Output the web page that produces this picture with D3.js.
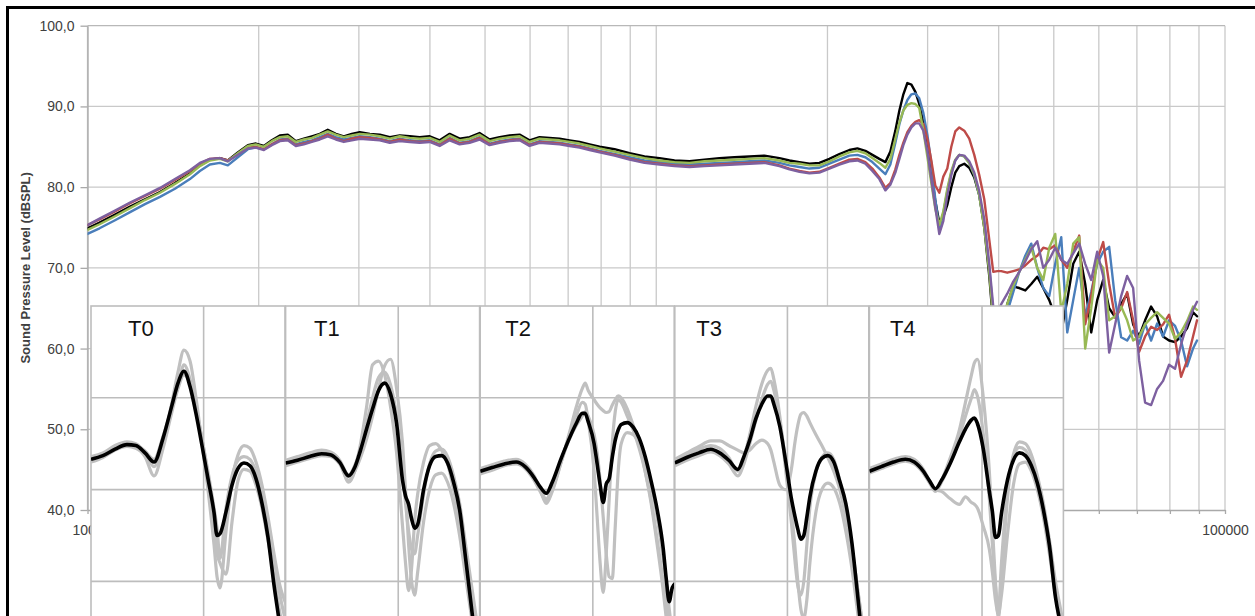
<!DOCTYPE html>
<html>
<head>
<meta charset="utf-8">
<script src="https://cdn.jsdelivr.net/npm/d3@7"></script>
<style>
  html, body { margin: 0; padding: 0; background: #fff; overflow: hidden; }
  svg { display: block; }
</style>
</head>
<body>
<script>
// ---------- Main response: frequency grid (Hz) ----------
const freqHz = [1000,1050,1118,1188,1262,1341,1425,1514,1576,1641,
  1709,1765,1838,1914,1977,2042,2109,2179,2250,2324,
  2401,2480,2561,2645,2733,2822,2915,3011,3136,3265,
  3400,3540,3686,3838,3997,4161,4333,4511,4697,4890,
  5093,5303,5524,5750,5987,6234,6492,6761,7040,7332,
  7634,7950,8446,8974,9537,10133,10767,11441,12155,12915,
  13722,14582,15495,16465,17145,17856,18590,19357,20155,20988,
  21855,22574,23316,23987,24676,25285,25800,26328,26760,27195,
  27640,28093,28550,29000,29485,29966,30452,30948,31455,31968,
  32488,33020,33555,34105,34799,35510,36236,36977,37733,38505,
  39131,39768,40416,41414,42432,43476,44546,45640,46764,47913,
  49089,50295,51530,52796,54093,55421,56782,58176,59605,61069,
  62568,64104,65677,67290,68942,70634,72368,74144,75964,77828,
  79738,81696,83701,85755,87859,89290];

// ---------- Main response: SPL per series (dB SPL) ----------
const splBlack = [74.9,75.6,76.6,77.6,78.5,79.4,80.5,81.7,82.7,83.4,
  83.6,83.3,84.3,85.2,85.4,85.1,85.8,86.4,86.5,85.7,
  86.0,86.3,86.6,87.1,86.6,86.3,86.6,86.8,86.6,86.5,
  86.2,86.4,86.3,86.2,86.3,85.8,86.6,86.0,86.2,86.7,
  85.9,86.2,86.4,86.5,85.8,86.2,86.1,86.0,85.8,85.6,
  85.3,85.0,84.7,84.2,83.8,83.6,83.3,83.2,83.4,83.6,
  83.7,83.8,83.9,83.6,83.3,83.1,82.9,83.0,83.5,84.1,
  84.6,84.8,84.5,84.0,83.5,83.1,84.4,87.0,89.5,91.5,
  92.9,92.7,91.8,90.3,88.0,84.8,81.6,78.3,75.6,76.3,
  77.8,80.0,81.8,82.6,82.9,82.4,81.2,79.0,75.0,69.0,
  63.0,61.0,62.5,65.5,67.7,67.5,67.2,68.0,68.9,67.5,
  66.0,64.0,62.0,66.0,70.5,72.0,68.0,62.0,66.0,68.5,
  65.0,63.9,65.5,66.8,63.0,61.5,63.5,65.2,64.0,61.5,
  61.0,60.8,61.5,62.5,64.5,64.0];

const splBlue = [74.2,74.9,75.9,76.9,77.9,78.8,79.8,81.0,82.0,82.8,
  83.0,82.7,83.7,84.7,84.9,84.7,85.3,85.9,86.0,85.3,
  85.6,85.8,86.2,86.6,86.2,85.9,86.1,86.3,86.2,86.0,
  85.7,86.0,85.8,85.7,85.8,85.3,86.1,85.5,85.7,86.2,
  85.4,85.7,85.9,86.0,85.3,85.7,85.6,85.5,85.3,85.1,
  84.8,84.5,84.1,83.7,83.3,83.1,82.9,82.8,82.9,83.0,
  83.1,83.2,83.3,83.0,82.7,82.5,82.3,82.4,82.9,83.4,
  83.9,84.0,83.7,83.1,82.3,81.6,82.8,85.5,87.8,89.5,
  90.8,91.5,91.6,91.0,89.2,86.5,83.0,78.5,74.8,76.8,
  79.5,81.8,83.3,84.0,83.8,83.0,81.5,79.0,75.5,70.0,
  64.5,61.0,62.0,64.5,67.0,69.5,71.5,73.0,70.0,67.5,
  66.5,70.5,73.8,62.0,66.0,70.0,64.0,67.0,70.5,72.0,
  72.6,66.0,61.4,61.0,62.2,60.6,63.1,61.0,63.1,61.5,
  63.5,62.8,61.0,57.8,60.0,61.0];

const splRed = [75.3,76.0,77.0,78.0,78.9,79.8,80.9,82.0,82.9,83.5,
  83.6,83.3,84.1,84.9,85.0,84.7,85.3,85.8,85.9,85.2,
  85.4,85.7,86.0,86.5,86.0,85.7,86.0,86.2,86.1,85.9,
  85.6,85.9,85.7,85.6,85.7,85.2,86.0,85.4,85.6,86.1,
  85.3,85.6,85.8,85.9,85.2,85.6,85.5,85.4,85.2,85.0,
  84.7,84.4,84.0,83.5,83.1,82.9,82.7,82.6,82.7,82.8,
  82.9,83.0,83.1,82.7,82.3,82.0,81.8,81.9,82.4,82.9,
  83.4,83.5,83.1,82.3,81.2,79.9,80.5,82.2,84.0,85.5,
  86.8,87.6,88.1,88.3,87.8,86.0,83.3,80.2,79.3,81.3,
  82.3,85.0,86.9,87.4,87.0,86.0,84.0,81.5,78.5,73.5,
  69.5,69.6,69.6,69.4,69.6,69.8,70.3,71.0,71.5,72.5,
  72.3,72.8,71.0,70.0,72.0,74.0,63.0,66.5,71.0,73.2,
  68.0,63.8,65.0,67.0,63.5,59.6,61.5,62.7,62.3,63.0,
  64.2,61.2,56.5,58.5,61.5,63.5];

const splGreen = [74.7,75.4,76.4,77.4,78.4,79.3,80.4,81.6,82.6,83.3,
  83.5,83.2,84.2,85.1,85.3,85.0,85.7,86.2,86.3,85.6,
  85.9,86.1,86.5,86.9,86.5,86.2,86.4,86.6,86.5,86.3,
  86.0,86.3,86.1,86.0,86.1,85.6,86.4,85.8,86.0,86.5,
  85.7,86.0,86.2,86.3,85.6,86.0,85.9,85.8,85.6,85.4,
  85.1,84.8,84.4,84.0,83.6,83.3,83.1,83.0,83.2,83.3,
  83.4,83.5,83.6,83.3,83.0,82.9,82.7,82.7,83.2,83.8,
  84.3,84.5,84.2,83.6,83.0,82.4,83.5,86.0,88.0,89.5,
  90.2,90.4,90.3,89.8,87.0,83.8,80.5,77.3,75.3,77.0,
  79.8,82.0,83.4,84.0,83.8,83.0,81.6,79.0,75.0,69.5,
  63.5,62.0,63.0,65.5,67.8,69.5,71.0,72.5,70.0,68.5,
  72.5,74.2,64.5,68.0,73.0,73.8,60.0,65.0,71.0,70.0,
  63.5,64.0,65.2,63.5,61.0,61.5,63.0,63.8,64.5,63.8,
  63.1,61.2,62.0,63.4,65.2,64.8];

const splPurple = [75.3,76.1,77.1,78.1,79.0,79.9,81.0,82.1,83.0,83.5,
  83.6,83.2,84.0,84.8,84.9,84.6,85.2,85.7,85.8,85.1,
  85.3,85.6,85.9,86.3,85.9,85.6,85.8,86.0,85.9,85.8,
  85.5,85.7,85.6,85.5,85.6,85.1,85.8,85.3,85.5,85.9,
  85.2,85.5,85.7,85.8,85.1,85.5,85.4,85.3,85.1,84.9,
  84.6,84.3,83.9,83.4,83.0,82.8,82.6,82.5,82.6,82.7,
  82.8,82.9,83.0,82.6,82.2,81.9,81.7,81.8,82.3,82.8,
  83.2,83.3,82.9,82.0,81.0,79.6,80.3,81.8,83.5,85.2,
  86.5,87.4,87.9,87.9,87.0,84.5,81.0,77.5,74.2,75.8,
  79.0,81.5,83.3,84.0,83.9,83.2,81.8,79.5,76.0,70.5,
  65.2,64.5,65.5,66.8,68.3,69.5,70.8,72.3,73.3,70.0,
  71.0,72.5,71.0,70.5,71.8,73.0,70.5,68.5,72.0,69.0,
  59.5,63.0,66.5,69.0,67.5,58.5,53.3,53.0,55.0,56.0,
  58.0,57.5,60.5,63.0,64.8,65.8];

const seriesValues = [splBlack, splBlue, splRed, splGreen, splPurple];
const seriesColors = ["#000000", "#4a7ebb", "#be4b48", "#98b954", "#7d60a0"];

// ---------- Axis ticks ----------
const yTicks = [40, 50, 60, 70, 80, 90, 100];
const xTickLabels = [1000, 10000, 100000];
const yTitle = "Sound Pressure Level (dBSPL)";

// ---------- Inset panels (frequency in kHz, level in dB) ----------
const insetLabels = ["T0", "T1", "T2", "T3", "T4"];

const t0Khz = [5.00,5.38,5.80,6.24,6.59,6.97,7.37,7.79,8.23,8.54,8.86,9.20,9.54,9.90,10.27,10.66,10.86,11.06,11.48,11.91,12.36,12.82,13.30,13.80,14.32,14.86,15.42,16.00,16.60];
const t0Mean = [83.3,83.7,84.4,84.9,84.8,84.0,83.0,85.6,89.2,91.6,92.9,91.2,88.3,84.8,81.2,77.5,75.0,75.2,77.6,80.5,82.3,82.9,82.6,81.2,78.5,74.8,69.6,65.0,59.5];
const t0Runs = [
  [83.6,84.0,84.8,85.2,85.0,84.0,82.5,85.0,89.5,92.8,95.2,94.0,90.0,85.0,80.0,74.0,70.5,69.3,75.5,81.0,83.8,84.8,84.5,83.0,80.5,77.0,73.0,69.5,67.5],
  [83.0,83.5,84.3,84.7,84.5,83.6,81.5,84.5,88.5,91.0,92.5,91.5,88.5,85.5,81.5,76.5,73.0,72.0,70.8,76.5,81.0,82.2,82.0,80.5,78.0,74.5,70.5,66.5,63.0],
  [83.5,83.9,84.6,85.0,84.9,84.2,83.3,85.8,89.0,91.2,93.6,92.0,89.0,85.5,82.0,78.0,75.8,72.5,78.0,81.5,83.2,83.6,83.3,82.0,79.8,76.5,72.5,68.5,65.5]
];

const t1Khz = [5.00,5.38,5.80,6.24,6.59,6.97,7.37,7.65,7.93,8.23,8.54,8.86,9.20,9.54,9.90,10.27,10.46,10.66,10.86,11.06,11.27,11.69,12.13,12.59,13.06,13.55,14.06,14.59,15.14,15.71,16.30,16.91];
const t1Mean = [82.9,83.2,83.6,83.9,83.8,83.0,81.5,82.4,84.3,86.6,88.8,90.8,91.6,90.4,87.2,81.0,79.3,78.4,76.8,75.8,76.2,80.0,82.6,83.6,83.7,82.9,80.8,77.8,72.5,67.0,61.5,56.0];
const t1Runs = [
  [83.2,83.6,84.0,84.3,84.1,83.2,80.8,82.0,85.0,89.0,93.6,94.0,92.5,89.0,84.0,76.0,72.0,69.0,71.5,76.5,79.5,83.0,84.8,85.0,84.3,82.8,80.0,76.5,72.5,68.0,63.5,59.0],
  [82.6,83.0,83.4,83.7,83.6,82.8,81.0,82.0,83.5,85.5,88.0,91.0,93.5,94.2,91.0,85.0,80.0,74.0,70.0,68.5,71.0,76.5,80.0,81.6,81.8,80.8,78.5,75.0,70.5,66.0,61.5,57.0],
  [83.1,83.4,83.8,84.1,84.0,83.2,81.6,82.6,84.6,87.2,90.0,92.2,92.8,91.4,88.0,82.0,78.5,75.5,73.5,73.0,75.0,79.5,82.8,84.2,84.4,83.6,81.5,78.5,74.0,69.5,65.0,60.5]
];

const t2Khz = [5.00,5.38,5.80,6.24,6.59,6.97,7.23,7.51,7.79,8.23,8.70,9.03,9.37,9.54,9.72,10.08,10.27,10.46,10.66,10.86,11.06,11.27,11.48,11.69,11.91,12.36,12.82,13.30,13.80,14.32,14.86,15.42,15.71,16.00,16.30,16.91];
const t2Mean = [82.0,82.4,82.8,83.0,82.5,81.3,80.3,79.6,80.8,83.4,85.8,87.2,88.3,88.3,87.4,85.0,82.8,80.5,78.6,80.6,81.2,83.5,85.4,86.5,87.1,87.3,86.8,85.6,83.6,80.9,77.8,73.6,70.3,67.8,69.3,70.0];
const t2Runs = [
  [82.3,82.7,83.1,83.3,82.8,81.5,80.0,78.5,79.8,83.0,86.5,89.0,91.0,91.6,90.8,89.8,89.3,88.9,88.6,88.4,88.5,89.2,89.8,90.2,90.0,88.8,87.0,85.0,82.0,78.5,74.0,69.0,66.0,63.0,61.0,58.0],
  [81.7,82.1,82.6,82.8,82.3,81.0,79.8,78.8,80.0,83.0,86.0,88.0,89.5,89.3,87.5,82.0,77.0,72.0,68.8,73.0,79.0,85.0,88.5,89.8,89.5,88.0,86.5,84.5,82.0,78.8,74.5,70.0,67.5,65.0,63.0,60.0],
  [82.2,82.5,82.9,83.1,82.6,81.2,80.0,79.0,80.3,83.2,85.7,87.0,88.0,88.5,88.0,86.0,84.0,81.0,77.0,73.0,70.5,70.3,76.0,82.0,85.0,86.2,86.0,85.0,83.2,80.5,77.0,72.5,70.0,67.0,64.5,61.0]
];

const t3Khz = [5.00,5.38,5.80,6.24,6.59,6.97,7.37,7.65,7.93,8.23,8.54,8.86,9.03,9.20,9.54,9.90,10.27,10.46,10.66,10.86,11.06,11.27,11.48,11.91,12.36,12.82,13.30,13.80,14.32,14.86,15.42,16.00,16.60];
const t3Mean = [82.9,83.5,84.0,84.4,84.0,83.2,82.2,83.6,85.4,87.7,89.3,90.2,90.2,89.3,86.9,83.0,78.8,77.2,75.7,74.6,75.0,77.0,79.2,82.0,83.4,83.7,83.0,80.9,78.5,74.3,68.3,62.0,56.0];
const t3Runs = [
  [83.2,83.8,84.4,84.8,84.5,83.5,82.0,83.5,86.0,89.0,91.5,93.0,93.2,92.0,88.0,82.0,76.0,72.5,69.5,68.5,70.0,74.0,78.0,81.8,83.5,84.0,83.3,81.0,78.0,74.0,69.0,64.0,59.0],
  [83.3,84.0,84.7,85.3,85.3,84.8,84.3,84.0,84.3,85.0,85.4,85.0,84.3,83.0,80.5,80.0,82.5,85.0,87.0,88.2,88.4,88.0,87.3,86.0,84.8,83.5,82.0,80.0,77.0,73.5,69.0,64.5,60.0],
  [82.6,83.2,83.7,84.1,83.7,82.8,81.5,82.8,85.0,87.5,89.8,91.5,91.8,90.8,87.5,83.0,77.5,74.0,70.0,67.0,66.0,68.0,72.0,77.5,80.0,80.7,80.2,78.5,75.5,71.5,66.5,61.5,57.0]
];

const t4Khz = [5.00,5.38,5.80,6.24,6.59,6.97,7.23,7.51,7.79,8.23,8.70,9.03,9.37,9.54,9.72,10.08,10.46,10.66,10.86,11.06,11.27,11.69,12.13,12.59,13.06,13.55,14.06,14.59,15.14,15.71,16.30,16.91];
const t4Mean = [82.0,82.5,83.0,83.3,83.0,82.0,81.0,80.1,81.0,82.9,85.2,86.6,87.6,87.8,87.2,84.4,79.8,77.6,74.8,75.0,77.4,81.0,83.2,84.0,83.7,82.6,80.7,77.8,73.9,68.3,64.8,61.0];
const t4Runs = [
  [82.3,82.8,83.3,83.6,83.3,82.2,81.0,80.0,81.0,83.5,86.5,89.5,92.5,93.8,94.2,90.0,82.0,76.0,70.0,66.0,70.0,79.0,83.8,85.2,85.0,83.8,81.5,78.5,74.5,70.0,66.5,63.0],
  [82.2,82.7,83.2,83.5,83.1,81.8,80.8,80.0,79.8,79.0,78.4,79.2,78.6,78.4,78.0,76.0,73.5,71.0,68.0,66.5,68.5,75.0,80.5,82.8,83.0,82.0,80.0,77.0,73.0,68.5,64.5,60.5],
  [81.8,82.3,82.8,83.1,82.8,81.8,80.8,79.8,80.8,83.0,85.8,88.0,90.0,90.9,90.2,86.0,79.0,74.0,69.5,67.0,72.0,80.0,83.6,84.6,84.3,83.0,81.0,78.0,74.0,69.5,65.5,61.5]
];

const insetKhz = [t0Khz, t1Khz, t2Khz, t3Khz, t4Khz];
const insetMean = [t0Mean, t1Mean, t2Mean, t3Mean, t4Mean];
const insetRuns = [t0Runs, t1Runs, t2Runs, t3Runs, t4Runs];

// ---------- Layout ----------
const W = 1255, H = 616;
const FONT = "Arial, 'Liberation Sans', sans-serif";
const plot = { left: 87.5, right: 1225, top: 25.7, bottom: 510 };
const gridColor = "#c9c9c9";
const axisColor = "#a9a9a9";

const svg = d3.select("body").append("svg")
  .attr("width", W).attr("height", H)
  .attr("viewBox", `0 0 ${W} ${H}`);

const x = d3.scaleLog().domain([1000, 100000]).range([plot.left, plot.right]);
const y = d3.scaleLinear().domain([40, 100]).range([plot.bottom, plot.top]);

const comma = d3.formatLocale({ decimal: ",", thousands: ".", grouping: [3], currency: ["", ""] }).format(".1f");

// gridlines
const grid = svg.append("g");
grid.selectAll("line.vg").data(x.ticks()).join("line")
  .attr("class", "vg")
  .attr("x1", d => x(d)).attr("x2", d => x(d))
  .attr("y1", y(100)).attr("y2", y(40))
  .attr("stroke", gridColor).attr("stroke-width", 1.3);
grid.selectAll("line.hg").data(yTicks.filter(v => v > 40)).join("line")
  .attr("class", "hg")
  .attr("x1", plot.left).attr("x2", plot.right)
  .attr("y1", d => y(d)).attr("y2", d => y(d))
  .attr("stroke", d => d === 100 ? "#b8b8b8" : gridColor).attr("stroke-width", 1.3);

// y axis
const yAxisG = svg.append("g")
  .attr("transform", `translate(${plot.left},0)`)
  .call(d3.axisLeft(y).tickValues(yTicks).tickSize(7).tickSizeOuter(0).tickPadding(6).tickFormat(comma));
yAxisG.attr("font-family", FONT).attr("font-size", 14);
yAxisG.select(".domain").attr("stroke", axisColor).attr("stroke-width", 1.3);
yAxisG.selectAll(".tick line").attr("stroke", axisColor).attr("stroke-width", 1.3);
yAxisG.selectAll(".tick text").attr("fill", "#404040");

// x axis
const xAxisG = svg.append("g")
  .attr("transform", `translate(0,${plot.bottom})`)
  .call(d3.axisBottom(x).tickValues(x.ticks()).tickSize(4).tickSizeOuter(0).tickPadding(11)
    .tickFormat(d => xTickLabels.some(v => Math.abs(v - d) < v * 1e-6) ? d3.format("d")(Math.round(d)) : ""));
xAxisG.attr("font-family", FONT).attr("font-size", 14);
xAxisG.select(".domain").attr("stroke", axisColor).attr("stroke-width", 1.3);
xAxisG.selectAll(".tick line").attr("stroke", axisColor).attr("stroke-width", 1.3);
xAxisG.selectAll(".tick text").attr("fill", "#404040");

// y axis title
svg.append("text")
  .attr("transform", `translate(30,${(plot.top + plot.bottom) / 2}) rotate(-90)`)
  .attr("text-anchor", "middle")
  .attr("font-family", FONT).attr("font-size", 13).attr("font-weight", "bold")
  .attr("fill", "#404040")
  .text(yTitle);

// response curves
svg.append("clipPath").attr("id", "plotClip")
  .append("rect").attr("x", plot.left).attr("y", plot.top)
  .attr("width", plot.right - plot.left).attr("height", plot.bottom - plot.top);

const line = d3.line().x((d, i) => x(freqHz[i])).y(d => y(d));
svg.append("g").attr("clip-path", "url(#plotClip)")
  .selectAll("path").data(seriesValues).join("path")
  .attr("d", d => line(d))
  .attr("fill", "none")
  .attr("stroke", (d, i) => seriesColors[i])
  .attr("stroke-width", 2.4)
  .attr("stroke-linejoin", "round")
  .attr("stroke-linecap", "round");

// ---------- Inset panels ----------
const insetLeft0 = 91, insetStep = 194.6, insetW = 194, insetTop = 306, insetH = 380;
const labelDx = [37, 28.5, 25, 21.5, 20.5];
const ix = d3.scaleLog().domain([5, 16.5]).range([0, insetW]);
const iy = d3.scaleLinear().domain([60, 100]).range([9.18 * 40, 0]);
const insetGrid = [90, 80, 70];

insetLabels.forEach((label, p) => {
  const g = svg.append("g")
    .attr("transform", `translate(${insetLeft0 + p * insetStep},${insetTop})`);
  const cid = "insetClip" + p;
  g.append("clipPath").attr("id", cid)
    .append("rect").attr("x", 0).attr("y", 0).attr("width", insetW).attr("height", insetH);

  g.append("rect").attr("x", 0).attr("y", 0).attr("width", insetW).attr("height", insetH)
    .attr("fill", "#fff").attr("stroke", "#bdbdbd").attr("stroke-width", 1.6);

  g.append("line")
    .attr("x1", ix(10)).attr("x2", ix(10)).attr("y1", 0).attr("y2", insetH)
    .attr("stroke", "#bdbdbd").attr("stroke-width", 1.6);
  g.selectAll("line.ig").data(insetGrid).join("line")
    .attr("class", "ig")
    .attr("x1", 0).attr("x2", insetW)
    .attr("y1", d => iy(d)).attr("y2", d => iy(d))
    .attr("stroke", "#bdbdbd").attr("stroke-width", 1.6);

  const khz = insetKhz[p];
  const iline = d3.line().curve(d3.curveMonotoneX)
    .x((d, i) => ix(khz[i])).y(d => iy(d));
  const cg = g.append("g").attr("clip-path", `url(#${cid})`);
  cg.selectAll("path.run").data(insetRuns[p]).join("path")
    .attr("class", "run")
    .attr("d", d => iline(d))
    .attr("fill", "none").attr("stroke", "#c0c0c0").attr("stroke-width", 3.2)
    .attr("stroke-linejoin", "round");
  cg.append("path")
    .attr("d", iline(insetMean[p]))
    .attr("fill", "none").attr("stroke", "#000").attr("stroke-width", 3.6)
    .attr("stroke-linejoin", "round");

  g.append("text")
    .attr("x", labelDx[p]).attr("y", 30)
    .attr("font-family", FONT).attr("font-size", 22)
    .attr("fill", "#111")
    .text(label);
});

// outer frame
svg.append("path")
  .attr("d", "M7.5,700V7.5H1400")
  .attr("fill", "none").attr("stroke", "#000").attr("stroke-width", 3);
</script>
</body>
</html>
